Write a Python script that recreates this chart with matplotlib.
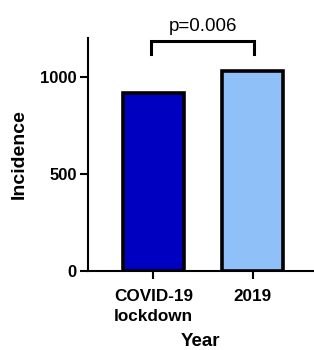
import matplotlib
matplotlib.use("Agg")
import matplotlib.pyplot as plt

categories = ["COVID-19\nlockdown", "2019"]
values = [915, 1030]
colors = ["#0000C0", "#90C0F8"]
yticks = [0, 500, 1000]
p_label = "p=0.006"

plt.rcParams['font.family'] = ['Liberation Sans', 'DejaVu Sans']

fig = plt.figure(figsize=(3.14, 3.5), dpi=100)
ax = fig.add_axes([0.280, 0.2266, 0.72, 0.6657])

x = list(range(len(categories)))
ax.bar(x, values, width=0.62, color=colors, edgecolor="black", linewidth=2.6, zorder=3)

ax.set_xlim(-0.66, 1.62)
ax.set_ylim(0, 1200)
ax.set_yticks(yticks)
ax.set_xticks(x)
ax.set_xticklabels(categories, fontweight="bold", fontsize=12.3, linespacing=1.4)
for lab in ax.get_yticklabels():
    lab.set_fontweight("bold")
    lab.set_fontsize(12)

for s in ["top", "right"]:
    ax.spines[s].set_visible(False)
for s in ["left", "bottom"]:
    ax.spines[s].set_linewidth(1.5)
ax.tick_params(axis="y", width=1.5, length=6, pad=2)
ax.tick_params(axis="x", width=1.5, length=6, pad=7)

ax.set_ylabel("Incidence", fontweight="bold", fontsize=14, labelpad=9)
ax.set_xlabel("Year", fontweight="bold", fontsize=13.5, labelpad=7)

# significance bracket
y_top, y_bot = 1182, 1118
ax.plot([x[0] - 0.02, x[0] - 0.02, x[1] + 0.01, x[1] + 0.01],
        [y_bot, y_top, y_top, y_bot], color="black", linewidth=2.2,
        solid_joinstyle="miter", clip_on=False, zorder=4)
ax.text((x[0] + x[1]) / 2, 1215, p_label, ha="center", va="bottom",
        fontsize=13.5, clip_on=False)

fig.savefig("out.png", dpi=100)
